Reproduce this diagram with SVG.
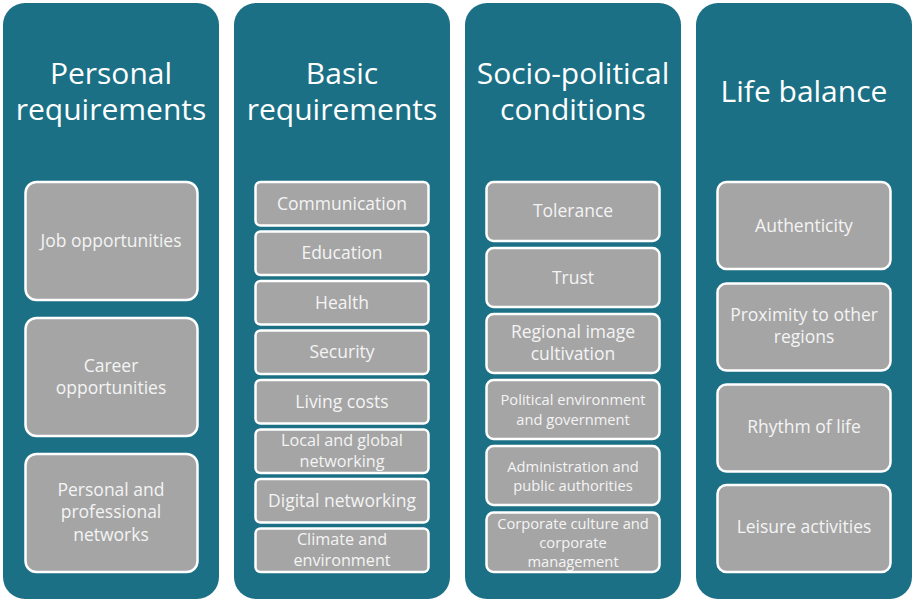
<svg xmlns="http://www.w3.org/2000/svg" width="912" height="599" viewBox="0 0 912 599">
  <style>
    .col { fill: #1b7085; }
    .box { fill: #a5a5a5; stroke: #ffffff; stroke-width: 2.5; }
    .title { font-family: "Open Sans", "Noto Sans", sans-serif; font-size: 30px; fill: #ffffff; text-anchor: middle; }
    .t { font-family: "Open Sans", "Noto Sans", sans-serif; font-size: 17.5px; fill: #f4f4f4; text-anchor: middle; }
    .m { font-family: "Open Sans", "Noto Sans", sans-serif; font-size: 16.2px; fill: #f4f4f4; text-anchor: middle; }
    .s { font-family: "Open Sans", "Noto Sans", sans-serif; font-size: 14.7px; fill: #f4f4f4; text-anchor: middle; }
  </style>
  <rect width="912" height="599" fill="#ffffff"/>

  <!-- Column 1: Personal requirements -->
  <g id="personal-requirements">
    <rect class="col" x="3" y="3" width="216" height="596" rx="22"/>
    <text class="title" x="111" y="84">Personal</text>
    <text class="title" x="111" y="120">requirements</text>
  </g>
  <g id="job-opportunities">
    <rect class="box" x="25.5" y="182" width="172" height="118" rx="11"/>
    <text class="t" x="111" y="247">Job opportunities</text>
  </g>
  <g id="career-opportunities">
    <rect class="box" x="25.5" y="318" width="172" height="118" rx="11"/>
    <text class="t" x="111" y="372">Career</text>
    <text class="t" x="111" y="394">opportunities</text>
  </g>
  <g id="personal-professional-networks">
    <rect class="box" x="25.5" y="454" width="172" height="118" rx="11"/>
    <text class="t" x="111" y="496">Personal and</text>
    <text class="t" x="111" y="518">professional</text>
    <text class="t" x="111" y="541">networks</text>
  </g>

  <!-- Column 2: Basic requirements -->
  <g id="basic-requirements">
    <rect class="col" x="234" y="3" width="216" height="596" rx="22"/>
    <text class="title" x="342" y="84">Basic</text>
    <text class="title" x="342" y="120">requirements</text>
  </g>
  <g id="communication">
    <rect class="box" x="255.5" y="182" width="173" height="43.5" rx="5"/>
    <text class="t" x="342" y="210">Communication</text>
  </g>
  <g id="education">
    <rect class="box" x="255.5" y="231.5" width="173" height="43.5" rx="5"/>
    <text class="t" x="342" y="259">Education</text>
  </g>
  <g id="health">
    <rect class="box" x="255.5" y="281" width="173" height="43.5" rx="5"/>
    <text class="t" x="342" y="309">Health</text>
  </g>
  <g id="security">
    <rect class="box" x="255.5" y="330.5" width="173" height="43.5" rx="5"/>
    <text class="t" x="342" y="358">Security</text>
  </g>
  <g id="living-costs">
    <rect class="box" x="255.5" y="380" width="173" height="43.5" rx="5"/>
    <text class="t" x="342" y="408">Living costs</text>
  </g>
  <g id="local-global-networking">
    <rect class="box" x="255.5" y="429.5" width="173" height="43.5" rx="5"/>
    <text class="m" x="342" y="446">Local and global</text>
    <text class="m" x="342" y="467">networking</text>
  </g>
  <g id="digital-networking">
    <rect class="box" x="255.5" y="479" width="173" height="43.5" rx="5"/>
    <text class="t" x="342" y="507">Digital networking</text>
  </g>
  <g id="climate-environment">
    <rect class="box" x="255.5" y="528.5" width="173" height="43.5" rx="5"/>
    <text class="m" x="342" y="545">Climate and</text>
    <text class="m" x="342" y="566">environment</text>
  </g>

  <!-- Column 3: Socio-political conditions -->
  <g id="socio-political-conditions">
    <rect class="col" x="465" y="3" width="216" height="596" rx="22"/>
    <text class="title" x="573" y="84">Socio-political</text>
    <text class="title" x="573" y="120">conditions</text>
  </g>
  <g id="tolerance">
    <rect class="box" x="486.5" y="182" width="173" height="59" rx="7"/>
    <text class="t" x="573" y="217">Tolerance</text>
  </g>
  <g id="trust">
    <rect class="box" x="486.5" y="248" width="173" height="59" rx="7"/>
    <text class="t" x="573" y="284">Trust</text>
  </g>
  <g id="regional-image">
    <rect class="box" x="486.5" y="314" width="173" height="59" rx="7"/>
    <text class="t" x="573" y="338">Regional image</text>
    <text class="t" x="573" y="360">cultivation</text>
  </g>
  <g id="political-environment">
    <rect class="box" x="486.5" y="380" width="173" height="59" rx="7"/>
    <text class="s" x="573" y="405">Political environment</text>
    <text class="s" x="573" y="425">and government</text>
  </g>
  <g id="administration">
    <rect class="box" x="486.5" y="446" width="173" height="59" rx="7"/>
    <text class="s" x="573" y="472">Administration and</text>
    <text class="s" x="573" y="491">public authorities</text>
  </g>
  <g id="corporate-culture">
    <rect class="box" x="486.5" y="512.5" width="173" height="59.5" rx="7"/>
    <text class="s" x="573" y="529">Corporate culture and</text>
    <text class="s" x="573" y="548">corporate</text>
    <text class="s" x="573" y="567">management</text>
  </g>

  <!-- Column 4: Life balance -->
  <g id="life-balance">
    <rect class="col" x="696" y="3" width="216" height="596" rx="22"/>
    <text class="title" x="804" y="102">Life balance</text>
  </g>
  <g id="authenticity">
    <rect class="box" x="717.5" y="182" width="173" height="87" rx="9"/>
    <text class="t" x="804" y="232">Authenticity</text>
  </g>
  <g id="proximity">
    <rect class="box" x="717.5" y="283.5" width="173" height="87" rx="9"/>
    <text class="t" x="804" y="321">Proximity to other</text>
    <text class="t" x="804" y="343">regions</text>
  </g>
  <g id="rhythm-of-life">
    <rect class="box" x="717.5" y="384.5" width="173" height="87" rx="9"/>
    <text class="t" x="804" y="433">Rhythm of life</text>
  </g>
  <g id="leisure-activities">
    <rect class="box" x="717.5" y="485" width="173" height="87" rx="9"/>
    <text class="t" x="804" y="533">Leisure activities</text>
  </g>

  <!-- no connectors in this layout -->
  <g id="connectors"/>
</svg>
